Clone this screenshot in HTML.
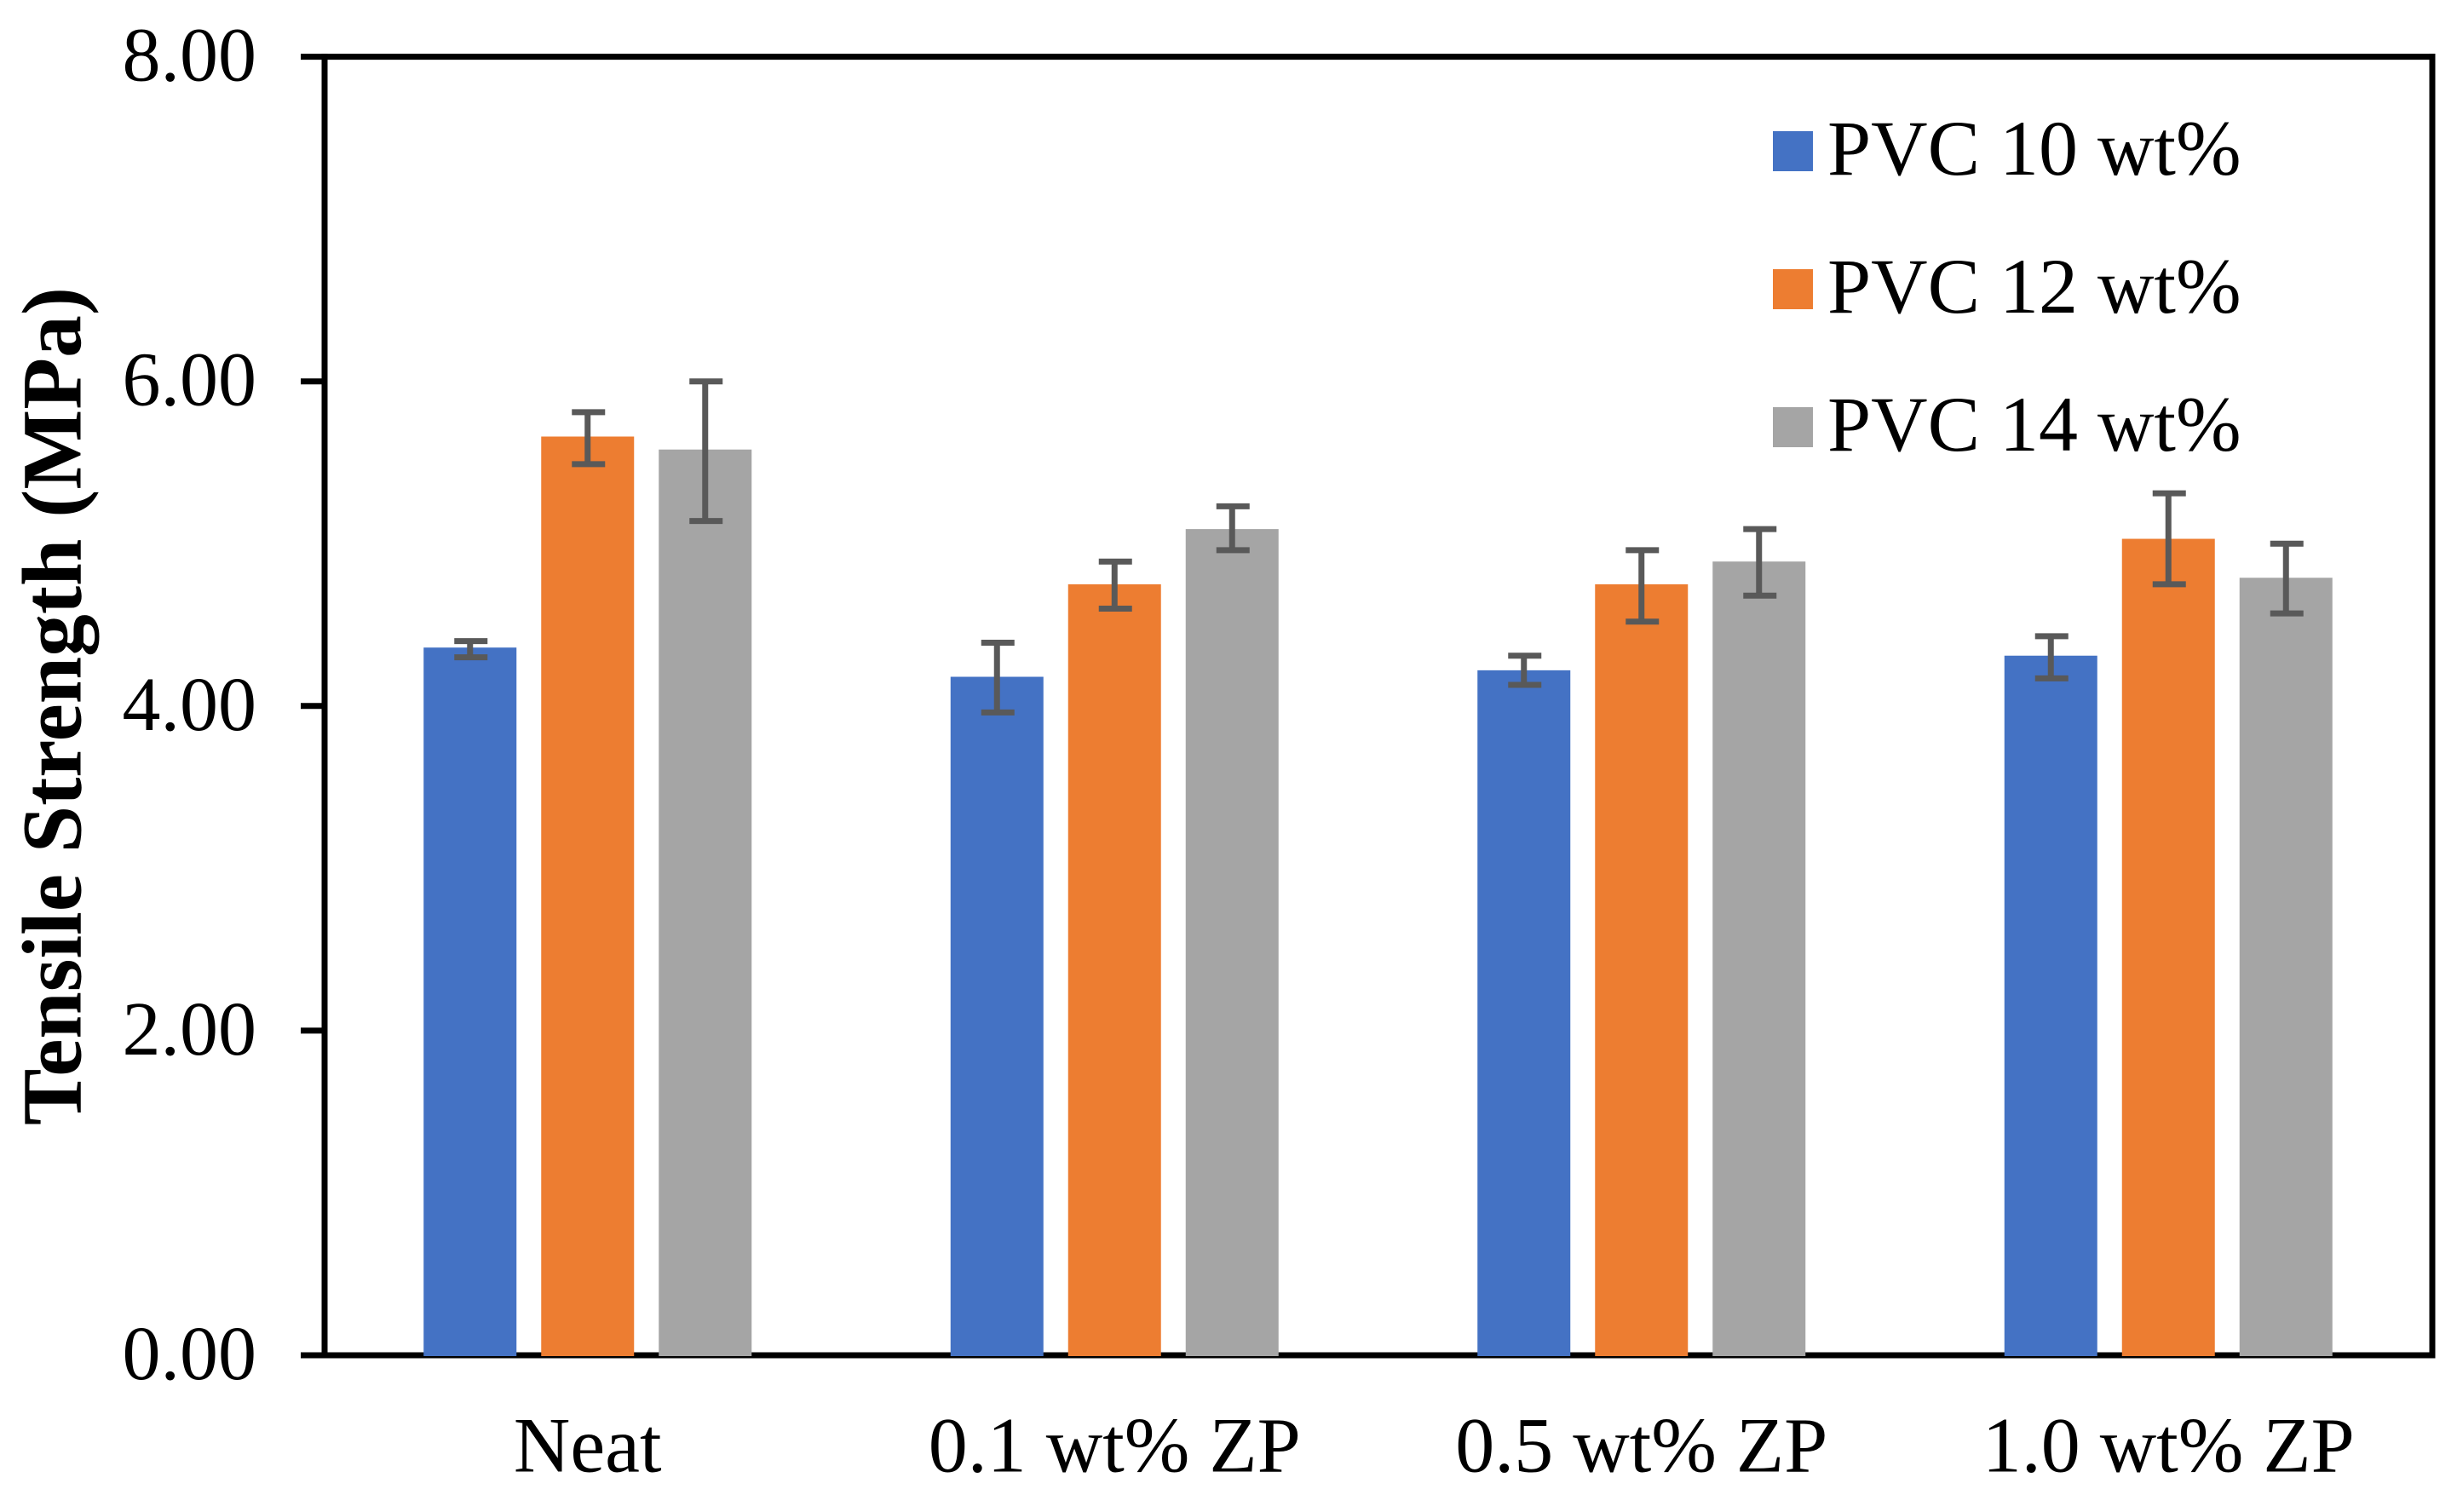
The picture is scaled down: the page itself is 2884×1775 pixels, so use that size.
<!DOCTYPE html>
<html lang="en">
<head>
<meta charset="utf-8">
<title>Tensile Strength Chart</title>
<style>
html,body{margin:0;padding:0;background:#fff;width:2884px;height:1775px;overflow:hidden}
svg{display:block}
text{font-family:"Liberation Serif",serif;fill:#000}
</style>
</head>
<body>
<svg id="chart" xmlns="http://www.w3.org/2000/svg" width="2884" height="1775" viewBox="0 0 2884 1775">
  <rect x="0" y="0" width="2884" height="1775" fill="#fff"/>
  <text transform="translate(94.5,829) rotate(-90)" text-anchor="middle" font-size="99.5" font-weight="bold">Tensile Strength (MPa)</text>
</svg>
<script>
const categories = ['Neat', '0.1 wt% ZP', '0.5 wt% ZP', '1.0 wt% ZP'];
const seriesNames = ['PVC 10 wt%', 'PVC 12 wt%', 'PVC 14 wt%'];
const pvc10Values = [4.36, 4.18, 4.22, 4.31];
const pvc12Values = [5.66, 4.75, 4.75, 5.03];
const pvc14Values = [5.58, 5.09, 4.89, 4.79];
const pvc10ErrUp = [0.04, 0.21, 0.09, 0.12];
const pvc12ErrUp = [0.15, 0.14, 0.21, 0.28];
const pvc14ErrUp = [0.42, 0.14, 0.20, 0.21];
const pvc10ErrDown = [0.06, 0.22, 0.09, 0.14];
const pvc12ErrDown = [0.17, 0.15, 0.23, 0.28];
const pvc14ErrDown = [0.44, 0.13, 0.21, 0.22];
const yTicks = [0, 2, 4, 6, 8];

const svg = document.getElementById('chart');
const NS = 'http://www.w3.org/2000/svg';
const plot = {left: 381, right: 2855, top: 66.6, bottom: 1591};
const yMax = 8;
const colors = ['#4472C4', '#ED7D31', '#A5A5A5'];
const allValues = [pvc10Values, pvc12Values, pvc14Values];
const allUp = [pvc10ErrUp, pvc12ErrUp, pvc14ErrUp];
const allDown = [pvc10ErrDown, pvc12ErrDown, pvc14ErrDown];
const barWidth = 109;
const barPitch = 138;

function yScale(v) {
  return plot.bottom - (v / yMax) * (plot.bottom - plot.top);
}
function xCenter(i) {
  return plot.left - 0.5 + (i + 0.5) * (plot.right - plot.left) / categories.length;
}
function slug(s) {
  return s.toLowerCase().replace(/[^a-z0-9]+/g, '-').replace(/-+$/, '');
}
function make(tag, attrs, parent) {
  const el = document.createElementNS(NS, tag);
  for (const k in attrs) el.setAttribute(k, attrs[k]);
  (parent || svg).appendChild(el);
  return el;
}

// Axis lines and frame
const axisLine = 7;
const leftAxis = make('line', {x1: plot.left, x2: plot.left, y1: plot.top - 3.5, y2: plot.bottom + 3.5, stroke: '#000', 'stroke-width': axisLine});


const topFrame = make('line', {x1: plot.left, x2: plot.right + 3.5, y1: plot.top, y2: plot.top, stroke: '#000', 'stroke-width': axisLine});


const rightFrame = make('line', {x1: plot.right, x2: plot.right, y1: plot.top - 3.5, y2: plot.bottom + 3.5, stroke: '#000', 'stroke-width': axisLine});


const xAxis = make('line', {x1: plot.left, x2: plot.right + 3.5, y1: plot.bottom, y2: plot.bottom, stroke: '#000', 'stroke-width': axisLine});



// Y ticks and labels
yTicks.forEach(function (t) {
  const y = yScale(t);
  const tick = make('line', {x1: 353, x2: plot.left, y1: y, y2: y, stroke: '#000', 'stroke-width': axisLine});
  
  
  const label = make('text', {x: 301, y: y + 28, 'text-anchor': 'end', 'font-size': 90});
  
  
  label.textContent = t.toFixed(2);
});

// Bars and error bars
categories.forEach(function (cat, i) {
  const cx = xCenter(i);
  const label = make('text', {x: cx, y: 1727.5, 'text-anchor': 'middle', 'font-size': 92});
  
  
  label.textContent = cat;

  seriesNames.forEach(function (name, s) {
    const v = allValues[s][i];
    const bx = cx + (s - 1) * barPitch;
    const top = yScale(v);
    const bar = make('rect', {x: bx - barWidth / 2, y: top, width: barWidth, height: plot.bottom + 1 - top, fill: colors[s]});
    
    
  });
  seriesNames.forEach(function (name, s) {
    const v = allValues[s][i];
    const bx = cx + (s - 1) * barPitch;
    const yUp = yScale(v + allUp[s][i]);
    const yDown = yScale(v - allDown[s][i]);
    const group = make('g', {stroke: '#595959', 'stroke-width': 7, fill: 'none'});
    
    
    make('line', {x1: bx, x2: bx, y1: yUp, y2: yDown}, group);
    make('line', {x1: bx - 18.5, x2: bx + 20.5, y1: yUp, y2: yUp}, group);
    make('line', {x1: bx - 18.5, x2: bx + 20.5, y1: yDown, y2: yDown}, group);
  });
});

// Legend
const legendRowY = [154, 316, 478];
seriesNames.forEach(function (name, s) {
  const row = make('g', {});
  
  
  const swatch = make('rect', {x: 2081, y: legendRowY[s], width: 47, height: 47, fill: colors[s]}, row);
  
  
  const text = make('text', {x: 2145, y: legendRowY[s] + 51, 'font-size': 92}, row);
  
  
  text.textContent = name;
});
</script>
</body>
</html>
